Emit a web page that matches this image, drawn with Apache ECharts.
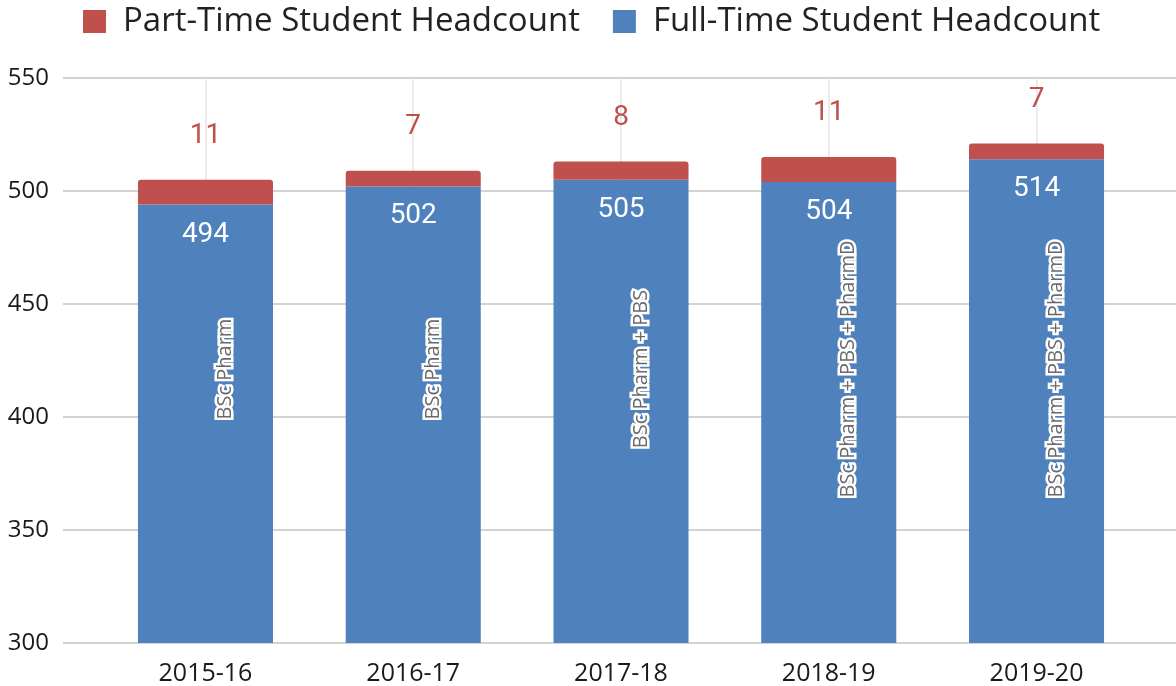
<!DOCTYPE html>
<html>
<head>
<meta charset="utf-8">
<script src="https://cdn.jsdelivr.net/npm/echarts@6/dist/echarts.min.js"></script>
<style>
html,body{margin:0;padding:0;background:#fff;}
#chart{width:1176px;height:686px;}
</style>
</head>
<body>
<div id="chart"></div>
<script>
const categories = ['2015-16', '2016-17', '2017-18', '2018-19', '2019-20'];
const fullTime = [494, 502, 505, 504, 514];
const partTime = [11, 7, 8, 11, 7];
const programs = ['BSc Pharm', 'BSc Pharm', 'BSc Pharm + PBS', 'BSc Pharm + PBS + PharmD', 'BSc Pharm + PBS + PharmD'];
const yMin = 300, yMax = 550, yStep = 50;

const RED = '#c0504d', BLUE = '#4f81bd';
const chart = echarts.init(document.getElementById('chart'), null, {renderer: 'canvas'});

function programLabel(fill, border, borderWidth) {
  return {
    show: true, position: 'insideBottom', distance: 274, rotate: 90,
    align: 'center', verticalAlign: 'middle', offset: [0, 20],
    formatter: p => programs[p.dataIndex],
    fontFamily: 'Open Sans', fontSize: 20, color: fill,
    textBorderColor: border, textBorderWidth: borderWidth
  };
}

chart.setOption({
  animation: false,
  backgroundColor: '#ffffff',
  legend: {
    data: ['Part-Time Student Headcount', 'Full-Time Student Headcount'],
    left: 78, top: 0,
    itemWidth: 23, itemHeight: 23, itemGap: 33,
    icon: 'rect',
    textStyle: {fontFamily: 'Open Sans', fontSize: 33, color: '#222', padding: [0, 0, 0, 12]}
  },
  grid: [
    {left: 63, right: 0, top: 78, bottom: 43},
    {left: 101.6, right: 35.6, top: 78, bottom: 43}
  ],
  xAxis: [
    {gridIndex: 0, type: 'category', data: categories, show: false},
    {gridIndex: 1, type: 'category', data: categories,
     axisLine: {show: false}, axisTick: {show: false}, splitLine: {show: false},
     axisLabel: {fontFamily: 'Open Sans', fontSize: 25, color: '#1a1a1a', margin: 18}}
  ],
  yAxis: [
    {gridIndex: 0, type: 'value', min: yMin, max: yMax, interval: yStep,
     axisLine: {show: false}, axisTick: {show: false},
     axisLabel: {fontFamily: 'Open Sans', fontSize: 24, color: '#1a1a1a', margin: 14},
     splitLine: {lineStyle: {color: '#d3d3d3', width: 2}}},
    {gridIndex: 1, type: 'value', min: yMin, max: yMax, interval: yStep, show: false, splitLine: {show: false}}
  ],
  series: [
    {
      name: 'Full-Time Student Headcount', type: 'bar', stack: 'total',
      xAxisIndex: 1, yAxisIndex: 1, data: fullTime, barWidth: '65%',
      itemStyle: {color: BLUE},
      label: {show: true, position: 'insideTop', distance: 16, color: '#ffffff',
              fontFamily: 'Roboto', fontSize: 28}
    },
    {
      name: 'Part-Time Student Headcount', type: 'bar', stack: 'total',
      xAxisIndex: 1, yAxisIndex: 1, data: partTime, barWidth: '65%',
      itemStyle: {color: RED, borderRadius: [3, 3, 0, 0]},
      label: {show: true, position: 'top', distance: 30, color: RED,
              fontFamily: 'Roboto', fontSize: 28},
      markLine: {
        silent: true, z: 1, symbol: 'none', animation: false,
        label: {show: false},
        lineStyle: {color: '#e4e4e4', width: 1.5, type: 'solid'},
        data: categories.map(c => ({xAxis: c}))
      }
    },
    {
      name: 'ProgramHalo', type: 'bar', xAxisIndex: 1, yAxisIndex: 1,
      data: fullTime, barWidth: '65%', barGap: '-100%', z: 3, silent: true,
      itemStyle: {color: 'rgba(0,0,0,0)'},
      label: programLabel('#ffffff', '#ffffff', 5)
    },
    {
      name: 'Program', type: 'bar', xAxisIndex: 1, yAxisIndex: 1,
      data: fullTime, barWidth: '65%', barGap: '-100%', z: 4, silent: true,
      itemStyle: {color: 'rgba(0,0,0,0)'},
      label: programLabel('#6a6a6a', 'transparent', 0)
    }
  ]
});
</script>
</body>
</html>
